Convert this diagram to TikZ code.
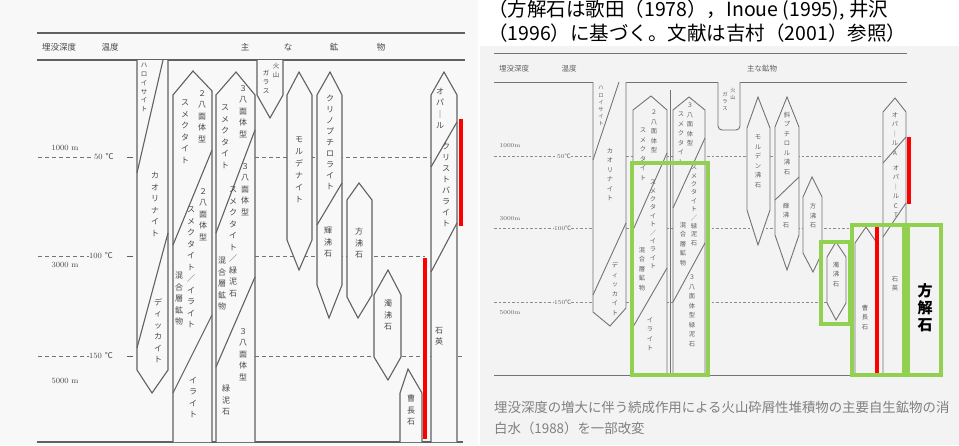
\documentclass[tikz,border=0pt]{standalone}
\usepackage{fontspec}
\newfontfamily\jp{Noto Sans CJK JP}
\definecolor{scanL}{HTML}{F8F8F8}
\definecolor{scanR}{HTML}{F3F3F3}
\definecolor{grn}{HTML}{92D050}
\tikzset{
 lnL/.style={draw=black!62, line width=1.1pt},
 colL/.style={lnL, fill=scanL, line join=miter},
 lnR/.style={draw=black!55, line width=0.9pt},
 colR/.style={lnR, fill=scanR, line join=miter},
 dshL/.style={draw=black!55, line width=0.8pt, dash pattern=on 4pt off 3pt},
 dshR/.style={draw=black!45, line width=0.7pt, dash pattern=on 2.5pt off 2pt},
 redline/.style={draw=red, line width=4pt},
 gbox/.style={draw=grn, line width=3.5pt},
 vL/.style={align=center, inner sep=0pt, anchor=north, text=black!72, font=\jp\fontsize{8}{11.5}\selectfont},
 vLs/.style={vL, font=\jp\fontsize{6.5}{8.8}\selectfont},
 vR/.style={align=center, inner sep=0pt, anchor=north, text=black!62, font=\jp\fontsize{6.3}{9.5}\selectfont},
 vRs/.style={vR, font=\jp\fontsize{5.3}{7.2}\selectfont},
 hL/.style={inner sep=0pt, text=black!72, font=\jp\fontsize{8.5}{10}\selectfont},
 hR/.style={inner sep=0pt, text=black!62, font=\jp\fontsize{7.5}{9}\selectfont},
 axL/.style={inner sep=0pt, text=black!72, font=\fontsize{8}{9}\selectfont},
 axR/.style={inner sep=0pt, text=black!62, font=\fontsize{6}{7}\selectfont},
 ttl/.style={inner sep=0pt, anchor=west, font=\jp\fontsize{19.5}{22}\selectfont},
 capt/.style={anchor=west, inner sep=0pt, text=black!50, font=\jp\fontsize{13.4}{15}\selectfont},
}
\begin{document}
\begin{tikzpicture}[x=1pt,y=-1pt]
\useasboundingbox (0,0) rectangle (959,445);
\clip (0,0) rectangle (959,445);
\fill[white] (0,0) rectangle (959,445);
\fill[scanL] (0,0) rectangle (478,445);
\fill[scanR] (480,46) rectangle (959,445);

% ================= LEFT PANEL =================
\draw[lnL] (37,33) -- (465,33);
\draw[lnL] (37,60) -- (465,60);
\draw[lnL] (37,442) -- (463,442);
\node[hL] (lh1) at (59,47) {埋没深度};
\node[hL] (lh2) at (110,47) {温度};
\node[hL] (lh3) at (245,47) {主};
\node[hL] (lh4) at (288,47) {な};
\node[hL] (lh5) at (334,47) {鉱};
\node[hL] (lh6) at (381,47) {物};

% axis
\node[axL] (la1) at (65,148) {1000 m};
\node[axL] (la2) at (65,265) {3000 m};
\node[axL] (la3) at (65,381) {5000 m};
\node[axL, anchor=west] (lt1) at (94,157) {50 \jp ℃};
\node[axL, anchor=west] (lt2) at (89,256) {100 \jp ℃};
\node[axL, anchor=west] (lt3) at (89,356) {150 \jp ℃};
\draw[dshL] (38,157) -- (lt1.west);
\draw[dshL] (38,256) -- (lt2.west);
\draw[dshL] (38,356) -- (lt3.west);
\draw[lnL, line width=0.8pt] (127,157) -- (133,157);
\draw[lnL, line width=0.8pt] (127,256) -- (133,256);
\draw[lnL, line width=0.8pt] (127,356) -- (133,356);
\draw[dshL] (255,157) -- (431,157);
\draw[dshL] (255,256) -- (425,256);
\draw[dshL] (255,356) -- (463,356);

% columns
\draw[colL] (137,60) -- (137,370) -- (152,393) -- (168,370) -- (168,60);
\draw[lnL] (163,60) -- (137,173);
\draw[lnL] (168,233) -- (137,348);
\draw[colL] (173,442) -- (173,95) -- (193,71) -- (212,91) -- (212,442);
\draw[lnL] (212,150) -- (173,245);
\draw[lnL] (212,315) -- (173,393);
\draw[colL] (216,442) -- (216,95) -- (236,72) -- (255,95) -- (255,442);
\draw[lnL] (255,130) -- (216,233);
\draw[lnL] (255,277) -- (216,367);
\draw[colL] (257,60) -- (257,95) -- (270,118) -- (283,95) -- (283,60);
\draw[colL] (287,240) -- (287,95) -- (299,72) -- (312,95) -- (312,240) -- (299,270) -- cycle;
\draw[colL] (317,285) -- (317,95) -- (330,72) -- (342,95) -- (342,285) -- (329,318) -- cycle;
\draw[lnL] (342,183) -- (317,225);
\draw[colL] (347,297) -- (347,200) -- (359,183) -- (372,200) -- (372,295) -- (358,318) -- cycle;
\draw[colL] (374,357) -- (374,295) -- (388,270) -- (401,295) -- (401,357) -- (388,380) -- cycle;
\draw[colL] (400,442) -- (400,393) -- (408,369) -- (422,393) -- (422,442);
\draw[colL] (431,442) -- (431,95) -- (444,72) -- (457,95) -- (457,442);
\draw[lnL] (457,122) -- (431,167);
\draw[lnL] (457,223) -- (431,272);

% texts
\node[vLs] (a1) at (144,63) {ハ\\ロ\\イ\\サ\\イ\\ト};
\node[vL] (a2) at (155,172) {カ\\オ\\リ\\ナ\\イ\\ト};
\node[vL] (a3) at (158,298) {デ\\ィ\\ッ\\カ\\イ\\ト};
\node[vL] (b1) at (202,90) {２\\八\\面\\体\\型};
\node[vL] (b2) at (185,100) {ス\\メ\\ク\\タ\\イ\\ト};
\node[vL] (b3) at (203,188) {２\\八\\面\\体\\型};
\node[vL] (b4) at (191,207) {ス\\メ\\ク\\タ\\イ\\ト\\／\\イ\\ラ\\イ\\ト};
\node[vL] (b5) at (179,272) {混\\合\\層\\鉱\\物};
\node[vL] (b6) at (193,377) {イ\\ラ\\イ\\ト};
\node[vL] (c1) at (243,85) {３\\八\\面\\体\\型};
\node[vL] (c2) at (225,105) {ス\\メ\\ク\\タ\\イ\\ト};
\node[vL] (c3) at (245,163) {３\\八\\面\\体\\型};
\node[vL] (c4) at (233,187) {ス\\メ\\ク\\タ\\イ\\ト\\／\\緑\\泥\\石};
\node[vL] (c5) at (222,257) {混\\合\\層\\鉱\\物};
\node[vL] (c6) at (243,328) {３\\八\\面\\体\\型};
\node[vL] (c7) at (226,385) {緑\\泥\\石};
\node[vLs] (d1) at (276,63) {火\\山};
\node[vLs] (d2) at (266,70) {ガ\\ラ\\ス};
\node[vL, font=\jp\fontsize{8}{12}\selectfont] (e1) at (299,137) {モ\\ル\\デ\\ナ\\イ\\ト};
\node[vL, font=\jp\fontsize{8}{11}\selectfont] (f1) at (330,95) {ク\\リ\\ノ\\プ\\チ\\ロ\\ラ\\イ\\ト};
\node[vL] (f2) at (328,227) {輝\\沸\\石};
\node[vL] (g1) at (359,228) {方\\沸\\石};
\node[vL] (h1) at (388,300) {濁\\沸\\石};
\node[vL] (i1) at (411,395) {曹\\長\\石};
\node[vL] (j1) at (440,88) {オ\\パ\\｜\\ル};
\node[vL, font=\jp\fontsize{8}{11}\selectfont] (j2) at (446,143) {ク\\リ\\ス\\ト\\バ\\ラ\\イ\\ト};
\node[vL] (j3) at (439,327) {石\\英};

\draw[redline] (461,119) -- (461,226);
\draw[redline] (425,258) -- (425,439);

% ================= RIGHT PANEL =================
\node[ttl] (t1) at (488,10) {（方解石は歌田（1978），Inoue (1995), 井沢};
\node[ttl] (t2) at (488,33) {（1996）に基づく。文献は吉村（2001）参照）};

\draw[lnR] (494,53) -- (907,53);
\draw[lnR] (494,82) -- (907,82);
\draw[lnR] (494,375) -- (907,375);
\node[hR] (rh1) at (514,69) {埋没深度};
\node[hR] (rh2) at (569,69) {温度};
\node[hR] (rh3) at (762,69) {主な鉱物};

\node[axR] (ra1) at (510,146) {1000m};
\node[axR] (ra2) at (510,219) {3000m};
\node[axR] (ra3) at (510,313) {5000m};
\node[axR, anchor=west] (rt1) at (557,156) {50\jp ℃};
\node[axR, anchor=west] (rt2) at (554,228) {100\jp ℃};
\node[axR, anchor=west] (rt3) at (554,302) {150\jp ℃};
\draw[dshR] (494,156) -- (rt1.west);
\draw[dshR] (494,228) -- (rt2.west);
\draw[dshR] (494,302) -- (rt3.west);
\draw[dshR] (rt1.east) -- (593,156);
\draw[dshR] (rt2.east) -- (593,228);
\draw[dshR] (rt3.east) -- (593,302);
\draw[dshR] (626,156) -- (883,156);
\draw[dshR] (626,228) -- (852,228);
\draw[dshR] (626,302) -- (828,302);

\draw[colR] (593,82) -- (593,312) -- (610,326) -- (626,308) -- (626,82);
\draw[lnR] (619,82) -- (593,160);
\draw[lnR] (626,223) -- (593,295);
\draw[colR] (633,375) -- (633,110) -- (651,96) -- (667,110) -- (667,375);
\draw[lnR] (667,153) -- (633,230);
\draw[lnR] (667,268) -- (633,327);
\draw[lnR] (670,90) -- (670,375);
\draw[colR] (673,375) -- (673,110) -- (689,97) -- (705,110) -- (705,375);
\draw[lnR] (705,138) -- (673,208);
\draw[lnR] (705,243) -- (673,302);
\draw[colR, rounded corners=4pt] (718,82) -- (718,130) -- (740,130) -- (740,82);
\draw[colR] (747,210) -- (747,128) -- (758,97) -- (770,128) -- (770,210) -- (758,245) -- cycle;
\draw[colR] (775,235) -- (775,127) -- (787,97) -- (799,127) -- (799,235) -- (787,270) -- cycle;
\draw[lnR] (799,177) -- (775,200);
\draw[colR] (803,253) -- (803,197) -- (812,177) -- (822,197) -- (822,253) -- (813,272) -- cycle;
\draw[colR] (827,303) -- (827,257) -- (836,242) -- (846,257) -- (846,303) -- (836,320) -- cycle;
\draw[colR] (855,375) -- (855,243) -- (866,227) -- (877,243) -- (877,375);
\draw[colR] (883,375) -- (883,112) -- (895,98) -- (906,112) -- (906,375);
\draw[lnR] (906,137) -- (883,163);
\draw[lnR] (906,203) -- (883,237);

\node[vRs] (ra1t) at (601,86) {ハ\\ロ\\イ\\サ\\イ\\ト};
\node[vR] (ra2t) at (610,148) {カ\\オ\\リ\\ナ\\イ\\ト};
\node[vR] (ra3t) at (615,262) {デ\\ィ\\ッ\\カ\\イ\\ト};
\node[vR] (rb1) at (654,110) {２\\八\\面\\体\\型};
\node[vR] (rb2) at (643,128) {ス\\メ\\ク\\タ\\イ\\ト};
\node[vR, font=\jp\fontsize{6.3}{8.4}\selectfont] (rb3) at (653,180) {ス\\メ\\ク\\タ\\イ\\ト\\／\\イ\\ラ\\イ\\ト};
\node[vR] (rb4) at (642,247) {混\\合\\層\\鉱\\物};
\node[vR] (rb5) at (650,317) {イ\\ラ\\イ\\ト};
\node[vR] (rc1) at (690,103) {３\\八\\面\\体\\型};
\node[vR] (rc2) at (681,112) {ス\\メ\\ク\\タ\\イ\\ト};
\node[vR, font=\jp\fontsize{6.3}{8.4}\selectfont] (rc3) at (694,165) {ス\\メ\\ク\\タ\\イ\\ト\\／\\緑\\泥\\石};
\node[vR] (rc4) at (683,222) {混\\合\\層\\鉱\\物};
\node[vR] (rc5) at (692,275) {３\\八\\面\\体\\型\\緑\\泥\\石};
\node[vRs] (rd1) at (733,88) {火\\山};
\node[vRs] (rd2) at (725,92) {ガ\\ラ\\ス};
\node[vR] (re1) at (758,135) {モ\\ル\\デ\\ン\\沸\\石};
\node[vR] (rf1) at (787,112) {斜\\プ\\チ\\ロ\\ル\\沸\\石};
\node[vR] (rf2) at (786,203) {輝\\沸\\石};
\node[vR] (rg1) at (813,203) {方\\沸\\石};
\node[vR] (rh1t) at (836,262) {濁\\沸\\石};
\node[vR] (ri1) at (865,305) {曹\\長\\石};
\node[vR] (rj1) at (895,112) {オ\\パ\\｜\\ル\\A};
\node[vR] (rj2) at (896,165) {オ\\パ\\｜\\ル\\C\\T};
\node[vR] (rj3) at (895,276) {石\\英};

\draw[redline] (909,137) -- (909,204);
\draw[redline] (877,227) -- (877,373);

\draw[gbox] (632,163) rectangle (708,375);
\draw[gbox] (821,242) rectangle (850,324);
\draw[gbox] (852,225) rectangle (904,375);
\draw[gbox] (908,225) rectangle (941,375);
\node[align=center, inner sep=0pt, font=\jp\bfseries\fontsize{15}{17}\selectfont] (hk) at (925,308) {方\\解\\石};

\node[capt] (cap1) at (494,407) {埋没深度の増大に伴う続成作用による火山砕屑性堆積物の主要自生鉱物の消};
\node[capt] (cap2) at (494,428) {白水（1988）を一部改変};
\end{tikzpicture}
\end{document}
